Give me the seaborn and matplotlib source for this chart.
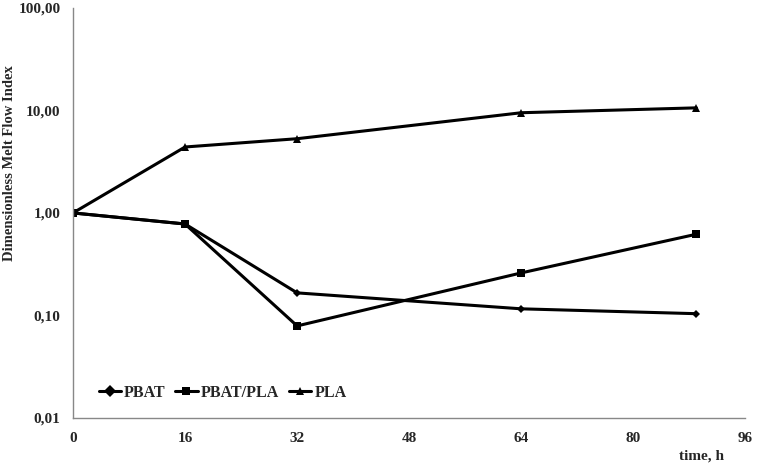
import matplotlib
matplotlib.use("Agg")
import matplotlib.pyplot as plt
import matplotlib.ticker as mticker
import seaborn as sns
import pandas as pd

time_h = [0, 16, 32, 64, 89]
pbat = [1.0, 0.78, 0.166, 0.116, 0.104]
pbat_pla = [1.0, 0.78, 0.079, 0.26, 0.62]
pla = [1.0, 4.4, 5.3, 9.5, 10.6]
series = ["PBAT", "PBAT/PLA", "PLA"]
y_ticks = [0.01, 0.1, 1, 10, 100]
x_ticks = [0, 16, 32, 48, 64, 80, 96]

df = pd.DataFrame({
    "time": time_h * 3,
    "value": pbat + pbat_pla + pla,
    "series": [series[0]] * 5 + [series[1]] * 5 + [series[2]] * 5,
})

sns.set_style("white")
plt.rcParams["font.family"] = ["Liberation Serif", "DejaVu Serif"]
plt.rcParams["font.weight"] = "bold"

fig = plt.figure(figsize=(7.65, 4.68), dpi=100)
ax = fig.add_axes([0.0954, 0.107, 0.879, 0.876])

sns.lineplot(data=df, x="time", y="value", style="series", hue="series",
             palette=["black"] * 3, markers={"PBAT": "D", "PBAT/PLA": "s", "PLA": "^"},
             dashes=False, linewidth=2.2, markersize=6, markeredgewidth=0,
             ax=ax, legend=True)
for line in ax.lines[:1]:
    line.set_markersize(4.5)

ax.set_yscale("log")
ax.set_ylim(0.01, 100)
ax.set_xlim(0, 96)
ax.set_xticks(x_ticks)
ax.set_xticklabels([str(v) for v in x_ticks])
ax.set_yticks(y_ticks)
ax.set_yticklabels([f"{v:.2f}".replace(".", ",") for v in y_ticks])
ax.yaxis.set_minor_locator(mticker.NullLocator())
ax.tick_params(axis="y", length=0, labelsize=11, pad=9)
ax.tick_params(axis="x", length=0, labelsize=11, pad=10)
for lab in ax.get_xticklabels() + ax.get_yticklabels():
    lab.set_fontweight("bold")

for s in ["top", "right"]:
    ax.spines[s].set_visible(False)
for s in ["left", "bottom"]:
    ax.spines[s].set_color("#888888")
    ax.spines[s].set_linewidth(1.0)

ax.set_ylabel("Dimensionless Melt Flow Index", fontsize=10.5, fontweight="bold")
ax.yaxis.set_label_coords(-0.084, 0.622)
ax.set_xlabel("")
fig.text(0.917, 0.012, "time, h", fontsize=11, fontweight="bold", ha="center", va="bottom")

handles, labels = ax.get_legend_handles_labels()
leg = ax.legend(handles, labels, loc="center left", bbox_to_anchor=(0.038, 0.061), ncol=3,
                frameon=False, fontsize=11.5, handlelength=1.4, handletextpad=0.2,
                columnspacing=0.6, borderpad=0, borderaxespad=0)
for t in leg.get_texts():
    t.set_fontweight("bold")

fig.savefig("out.png", dpi=100)
